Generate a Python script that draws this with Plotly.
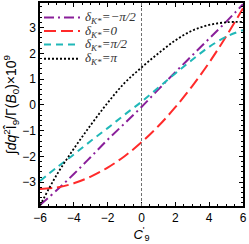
import plotly.graph_objects as go

x_vals = [-6, -5, -4, -3, -2, -1, 0, 1, 2, 3, 4, 5, 6]
y_minus_half_pi = [-3.88, -3.3, -2.68, -2.02, -1.35, -0.72, -0.08, 0.6, 1.27, 1.92, 2.57, 3.22, 3.9]
y_zero = [-3.26, -3.2, -3.04, -2.78, -2.43, -1.99, -1.45, -0.82, -0.09, 0.73, 1.64, 2.65, 3.75]
y_half_pi = [-2.95, -2.42, -1.92, -1.4, -0.9, -0.38, 0.12, 0.67, 1.22, 1.75, 2.25, 2.64, 2.9]
y_pi = [-3.9, -2.7, -1.7, -0.78, 0.08, 0.85, 1.45, 2.0, 2.5, 2.88, 3.1, 3.2, 3.22]

labels = ["δ<sub>K*</sub>=−π/2", "δ<sub>K*</sub>=0", "δ<sub>K*</sub>=π/2", "δ<sub>K*</sub>=π"]
series = [y_minus_half_pi, y_zero, y_half_pi, y_pi]
colors = ["#8a1f9a", "#ff2a2a", "#20b8b8", "#000000"]
dashes = ["10px,4px,2px,4px", "12px,5px", "7px,5px", "2px,2px"]
widths = [2, 2, 2, 1.8]

fig = go.Figure()
for ys, c, d, w in zip(series, colors, dashes, widths):
    fig.add_trace(go.Scatter(x=x_vals, y=ys, mode="lines",
                             line=dict(color=c, dash=d, width=w, shape="spline"),
                             showlegend=False))

fig.add_shape(type="line", x0=0, x1=0, y0=0, y1=1, xref="x", yref="y domain",
              line=dict(color="#707070", width=1, dash="3px,2px"))

L, R, T, B = 40, 6, 1, 38
W, H = 249, 244
pw, ph = W - L - R, H - T - B
rows = [15.7, 29.3, 42.9, 57.3]
for i, (lab, c, d, w) in enumerate(zip(labels, colors, dashes, widths)):
    yp = 1 - (rows[i] - T) / ph
    fig.add_shape(type="line", xref="paper", yref="paper",
                  x0=(44 - L) / pw, x1=(80 - L) / pw, y0=yp, y1=yp,
                  line=dict(color=c, dash=d, width=w))
    fig.add_annotation(xref="paper", yref="paper", x=(83 - L) / pw, y=yp,
                       text="<i>" + lab + "</i>", showarrow=False,
                       xanchor="left", yanchor="middle",
                       font=dict(family="Liberation Serif", size=13, color="#333"))

axis_common = dict(showline=True, linecolor="black", linewidth=1.5, mirror="ticks",
                   ticks="inside", ticklen=4, tickcolor="black", showgrid=False,
                   zeroline=False, tickfont=dict(family="Liberation Sans", size=12, color="black"))
fig.update_xaxes(range=[-6, 6], tickvals=[-6, -4, -2, 0, 2, 4, 6],
                 minor=dict(dtick=0.5, ticks="inside", ticklen=2, tickcolor="black"),
                 title=dict(text="<i>C</i><sup>'</sup><sub>9</sub>", standoff=1,
                            font=dict(family="Liberation Sans", size=13, color="black")),
                 **axis_common)
fig.update_yaxes(range=[-3.92, 3.95], tickvals=[-3, -2, -1, 0, 1, 2, 3],
                 minor=dict(dtick=0.2, ticks="inside", ticklen=2, tickcolor="black"),
                 title=dict(text="∫<i>dq</i><sup>2</sup>Î<sub>9</sub>/Γ(<i>B</i><sub>0</sub>)×10<sup>9</sup>",
                            standoff=2, font=dict(family="Liberation Sans", size=14, color="black")),
                 **axis_common)
fig.update_layout(width=W, height=H, margin=dict(l=L, r=R, t=T, b=B),
                  plot_bgcolor="white", paper_bgcolor="white")
fig.write_html("out.html", config={"displayModeBar": False},
               post_script="document.body.style.margin='0';document.body.style.overflow='hidden';")
